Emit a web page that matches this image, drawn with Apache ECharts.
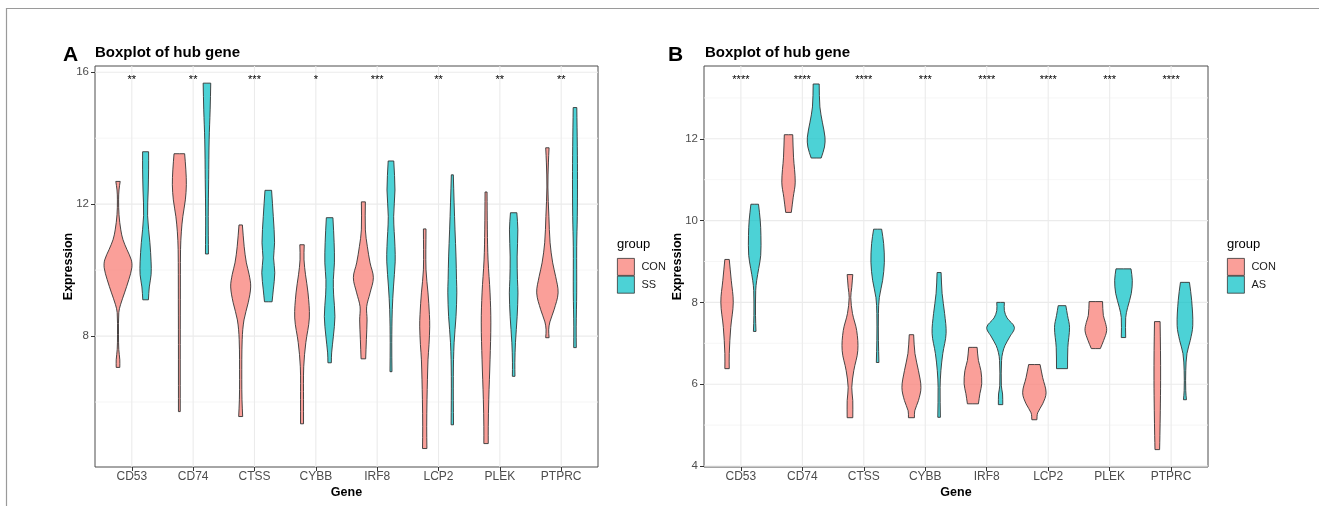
<!DOCTYPE html>
<html>
<head>
<meta charset="utf-8">
<title>Boxplot of hub gene</title>
<script src="https://cdn.jsdelivr.net/npm/echarts@6/dist/echarts.min.js"></script>
<style>
  html, body { margin: 0; padding: 0; background: #fff; }
  #chart { width: 1319px; height: 506px; }
</style>
</head>
<body>
<div id="chart"></div>
<script>
// Genes on the x axis (shared by both panels)
const genes = ['CD53', 'CD74', 'CTSS', 'CYBB', 'IRF8', 'LCP2', 'PLEK', 'PTPRC'];

// Significance marks above each gene
const sigA = ['**', '**', '***', '*', '***', '**', '**', '**'];
const sigB = ['****', '****', '****', '***', '****', '****', '***', '****'];

// Axis ticks
const ticksA = [8, 12, 16];
const minorA = [6, 10, 14];
const ticksB = [4, 6, 8, 10, 12];
const minorB = [5, 7, 9, 11, 13];

// Violin profiles: [expression, density] from top of the violin to its bottom
const violinA_CON = [
  [[12.69, 2.2], [12.43, 1.0], [12.13, 0.6], [11.68, 1.0], [11.22, 2.8], [10.92, 5.0], [10.62, 9.0], [10.31, 13.3], [10.07, 13.8], [9.71, 10.8], [9.31, 6.5], [8.95, 2.5], [8.71, 0.8], [8.04, 0.5], [7.59, 0.8], [7.28, 1.8], [7.05, 1.8]],
  [[13.53, 5.3], [13.04, 6.5], [12.59, 7.0], [12.13, 6.0], [11.63, 3.5], [11.16, 2.0], [10.62, 1.2], [9.10, 1.0], [7.28, 0.9], [5.71, 0.9]],
  [[11.37, 1.7], [10.71, 3.5], [10.22, 5.7], [9.86, 8.5], [9.49, 10.0], [9.01, 7.5], [8.49, 3.3], [7.89, 1.5], [6.68, 1.1], [6.07, 1.3], [5.56, 2.0]],
  [[10.77, 2.2], [10.31, 2.0], [9.86, 3.5], [9.31, 6.0], [8.55, 7.3], [7.80, 3.8], [7.07, 1.7], [6.07, 1.5], [5.34, 1.5]],
  [[12.07, 2.0], [11.22, 2.0], [10.71, 4.0], [10.22, 6.7], [9.77, 10.0], [9.31, 6.7], [8.89, 3.3], [8.49, 3.7], [7.89, 3.0], [7.31, 2.3]],
  [[11.25, 1.3], [10.01, 1.3], [9.31, 3.3], [8.65, 4.7], [8.28, 5.0], [7.74, 4.3], [7.28, 3.3], [6.07, 2.3], [5.25, 2.0], [4.59, 2.2]],
  [[12.37, 1.0], [11.22, 1.3], [10.31, 2.0], [9.31, 4.0], [8.40, 4.8], [7.28, 4.0], [6.07, 2.7], [5.25, 2.2], [4.74, 2.2]],
  [[13.71, 1.7], [13.25, 1.0], [12.52, 0.5], [11.63, 1.5], [10.83, 2.7], [10.22, 5.3], [9.80, 8.3], [9.31, 10.7], [8.80, 6.7], [8.43, 2.5], [8.19, 1.3], [7.95, 1.7]]
];
const violinA_SS = [
  [[13.59, 3.0], [13.04, 3.0], [12.43, 2.6], [11.65, 2.0], [10.83, 4.3], [10.25, 5.5], [9.86, 5.5], [9.49, 3.7], [9.10, 2.8]],
  [[15.67, 3.8], [14.86, 3.2], [13.95, 2.2], [12.74, 1.7], [11.63, 1.3], [10.49, 1.5]],
  [[12.42, 3.3], [11.63, 5.0], [10.83, 6.3], [10.37, 5.3], [9.92, 6.5], [9.40, 5.0], [9.04, 3.8]],
  [[11.59, 3.3], [10.83, 4.5], [10.22, 4.8], [9.71, 3.7], [9.25, 4.0], [8.59, 5.3], [7.98, 3.7], [7.49, 2.0], [7.19, 1.7]],
  [[13.31, 2.8], [12.43, 4.0], [11.63, 2.7], [10.71, 4.0], [10.25, 4.2], [9.49, 2.5], [8.80, 1.3], [7.80, 0.8], [6.92, 1.0]],
  [[12.89, 1.0], [12.04, 1.8], [11.22, 2.7], [10.40, 3.7], [9.71, 4.2], [9.31, 4.5], [8.59, 3.7], [7.80, 1.8], [6.77, 1.0], [5.31, 1.2]],
  [[11.74, 3.2], [11.22, 4.2], [10.40, 3.5], [9.71, 3.8], [9.31, 4.3], [8.59, 3.5], [7.80, 1.8], [7.19, 1.2], [6.78, 1.3]],
  [[14.93, 1.8], [13.74, 2.3], [12.74, 2.5], [11.63, 2.3], [10.71, 1.7], [9.31, 1.7], [8.28, 1.2], [7.65, 1.3]]
];
const violinB_CON = [
  [[9.05, 2.2], [8.54, 4.2], [8.00, 6.2], [7.39, 3.7], [6.75, 2.2], [6.38, 2.2]],
  [[12.10, 4.2], [11.55, 5.0], [10.94, 6.7], [10.57, 4.7], [10.20, 2.8]],
  [[8.68, 2.8], [8.37, 1.8], [8.12, 0.8], [7.73, 2.5], [7.31, 6.7], [6.82, 7.8], [6.33, 3.8], [5.92, 1.8], [5.60, 2.8], [5.18, 2.8]],
  [[7.21, 2.2], [6.75, 3.5], [6.33, 7.0], [5.92, 9.5], [5.60, 7.0], [5.35, 3.3], [5.18, 3.0]],
  [[6.90, 4.2], [6.58, 5.5], [6.33, 8.0], [6.01, 8.8], [5.77, 7.0], [5.52, 5.5]],
  [[6.48, 5.7], [6.16, 8.3], [5.79, 11.7], [5.52, 8.3], [5.30, 3.3], [5.13, 2.5]],
  [[8.02, 6.7], [7.68, 7.5], [7.51, 9.5], [7.31, 10.8], [7.07, 7.8], [6.87, 4.5]],
  [[7.53, 2.8], [6.82, 3.2], [6.09, 3.3], [5.35, 3.0], [4.74, 2.6], [4.40, 2.3]]
];
const violinB_AS = [
  [[10.40, 3.8], [10.01, 5.5], [9.64, 6.2], [9.15, 6.0], [8.83, 4.0], [8.54, 2.0], [8.29, 1.0], [7.68, 0.8], [7.29, 1.3]],
  [[13.34, 3.0], [12.78, 3.7], [12.39, 6.3], [12.04, 8.8], [11.80, 8.3], [11.53, 5.0]],
  [[9.79, 4.0], [9.44, 6.0], [8.98, 6.7], [8.54, 5.0], [8.12, 1.7], [7.73, 0.8], [7.07, 0.8], [6.53, 1.3]],
  [[8.73, 2.0], [8.22, 3.0], [7.73, 5.5], [7.24, 7.0], [6.75, 3.7], [6.33, 1.8], [5.92, 1.0], [5.19, 1.3]],
  [[8.00, 3.8], [7.80, 3.8], [7.62, 6.5], [7.39, 13.8], [7.15, 9.0], [6.95, 4.5], [6.78, 2.2], [6.58, 1.0], [5.96, 0.8], [5.76, 2.0], [5.50, 2.2]],
  [[7.92, 3.8], [7.68, 5.5], [7.39, 7.5], [6.90, 5.8], [6.38, 5.5]],
  [[8.82, 7.5], [8.54, 8.8], [8.22, 7.8], [7.88, 4.2], [7.63, 2.2], [7.14, 2.2]],
  [[8.49, 4.5], [8.05, 6.7], [7.43, 7.8], [7.07, 5.3], [6.75, 2.0], [6.33, 0.8], [5.84, 0.8], [5.62, 1.5]]
];

// ---- layout / style ----
const FONT = 'Liberation Sans, Arial, Helvetica, sans-serif';
const DODGE = 0.225;              // half of the dodge width
const DENSITY_FULL = 13.8;        // density that fills the whole dodge slot
const K = DODGE / DENSITY_FULL;   // x units per density unit
const X_MIN = 0.4, X_MAX = 8.6;
const COL_CON = 'rgba(248,118,109,0.7)';
const COL_CASE = 'rgba(0,191,196,0.7)';
const positions = genes.map((g, i) => i + 1);

function violinRenderer(profiles, offset, fill) {
  return function (params, api) {
    const prof = profiles[params.dataIndex];
    const cx = params.dataIndex + 1 + offset;
    const right = prof.map(p => api.coord([cx + p[1] * K, p[0]]));
    const left = prof.map(p => api.coord([cx - p[1] * K, p[0]])).reverse();
    // corner points doubled so flat ends stay crisp when smoothing
    const pts = [right[0]].concat(right, [right[right.length - 1], left[0]], left, [left[left.length - 1]]);
    return {
      type: 'polygon',
      shape: { points: pts, smooth: 0.35 },
      style: { fill: fill, stroke: '#333333', lineWidth: 0.9 }
    };
  };
}

function gridLines(major, minor) {
  const items = [];
  minor.forEach(v => items.push({ dir: 'h', v: v, major: false }));
  major.forEach(v => items.push({ dir: 'h', v: v, major: true }));
  positions.forEach(v => items.push({ dir: 'v', v: v, major: true }));
  return items;
}

function gridRenderer(items, yMin, yMax) {
  return function (params, api) {
    const it = items[params.dataIndex];
    let a, b;
    if (it.dir === 'h') { a = api.coord([X_MIN, it.v]); b = api.coord([X_MAX, it.v]); }
    else { a = api.coord([it.v, yMin]); b = api.coord([it.v, yMax]); }
    return {
      type: 'line',
      shape: { x1: a[0], y1: a[1], x2: b[0], y2: b[1] },
      style: { stroke: it.major ? '#ebebeb' : '#f4f4f4', lineWidth: it.major ? 1.1 : 0.8 }
    };
  };
}

function starRenderer(marks, yPos) {
  return function (params, api) {
    const p = api.coord([params.dataIndex + 1, yPos]);
    return {
      type: 'text',
      x: p[0], y: p[1],
      style: { text: marks[params.dataIndex], fill: '#000', font: '11px ' + FONT, align: 'center', verticalAlign: 'middle' }
    };
  };
}

const Y_A = [4.03, 16.19];
const Y_B = [3.975, 13.78];
const gridItemsA = gridLines(ticksA, minorA);
const gridItemsB = gridLines(ticksB, minorB);

function xAxisFor(idx) {
  return {
    gridIndex: idx, type: 'value', min: X_MIN, max: X_MAX,
    axisLine: { show: false }, splitLine: { show: false },
    axisTick: { show: true, customValues: positions, length: 4, lineStyle: { color: '#333', width: 1 } },
    axisLabel: { customValues: positions, formatter: v => genes[Math.round(v) - 1], color: '#4d4d4d', fontSize: 12, fontFamily: FONT, margin: 4 },
    name: 'Gene', nameLocation: 'middle', nameGap: 19, nameMoveOverlap: false,
    nameTextStyle: { fontWeight: 'bold', fontSize: 12.5, color: '#000', fontFamily: FONT }
  };
}
function yAxisFor(idx, range, ticks) {
  return {
    gridIndex: idx, type: 'value', min: range[0], max: range[1],
    axisLine: { show: false }, splitLine: { show: false },
    axisTick: { show: true, customValues: ticks, length: 4, lineStyle: { color: '#333', width: 1 } },
    axisLabel: { customValues: ticks, color: '#4d4d4d', fontSize: 11.5, fontFamily: FONT, margin: 6 },
    name: 'Expression', nameLocation: 'middle', nameGap: 20, nameRotate: 90, nameMoveOverlap: false,
    nameTextStyle: { fontWeight: 'bold', fontSize: 12.5, color: '#000', fontFamily: FONT }
  };
}

const idxData = genes.map((g, i) => [i + 1, 0]);
const chart = echarts.init(document.getElementById('chart'), null, { renderer: 'canvas' });

chart.setOption({
  animation: false,
  backgroundColor: '#ffffff',
  textStyle: { fontFamily: FONT },
  grid: [
    { left: 95, top: 66, width: 503, height: 401, show: true, borderColor: '#4d4d4d', borderWidth: 1, backgroundColor: 'transparent' },
    { left: 704, top: 66, width: 504, height: 401, show: true, borderColor: '#4d4d4d', borderWidth: 1, backgroundColor: 'transparent' }
  ],
  xAxis: [xAxisFor(0), xAxisFor(1)],
  yAxis: [yAxisFor(0, Y_A, ticksA), yAxisFor(1, Y_B, ticksB)],
  legend: [
    { left: 617, top: 258, orient: 'vertical', padding: 0, itemGap: 0, itemWidth: 17, itemHeight: 17, icon: 'rect',
      data: ['CON', 'SS'], selectedMode: false,
      itemStyle: { borderColor: '#333', borderWidth: 0.8 },
      textStyle: { fontSize: 11, color: '#1a1a1a', fontFamily: FONT, padding: [0, 0, 0, 2] } },
    { left: 1227, top: 258, orient: 'vertical', padding: 0, itemGap: 0, itemWidth: 17, itemHeight: 17, icon: 'rect',
      data: ['CON', 'AS'], selectedMode: false,
      itemStyle: { borderColor: '#333', borderWidth: 0.8 },
      textStyle: { fontSize: 11, color: '#1a1a1a', fontFamily: FONT, padding: [0, 0, 0, 2] } }
  ],
  graphic: [
    { type: 'polyline', silent: true, shape: { points: [[6.5, 506], [6.5, 8.5], [1319, 8.5]] }, style: { stroke: '#9a9a9a', lineWidth: 1.2, fill: null } },
    { type: 'text', left: 63, top: 45, style: { text: 'A', font: 'bold 21px ' + FONT, fill: '#000' } },
    { type: 'text', left: 95, top: 45, style: { text: 'Boxplot of hub gene', font: 'bold 15px ' + FONT, fill: '#000' } },
    { type: 'text', left: 668, top: 45, style: { text: 'B', font: 'bold 21px ' + FONT, fill: '#000' } },
    { type: 'text', left: 705, top: 45, style: { text: 'Boxplot of hub gene', font: 'bold 15px ' + FONT, fill: '#000' } },
    { type: 'text', left: 617, top: 238, style: { text: 'group', font: '13px ' + FONT, fill: '#000' } },
    { type: 'text', left: 1227, top: 238, style: { text: 'group', font: '13px ' + FONT, fill: '#000' } }
  ],
  series: [
    { type: 'custom', xAxisIndex: 0, yAxisIndex: 0, z: 1, silent: true, data: gridItemsA.map(() => [1, 8]), renderItem: gridRenderer(gridItemsA, Y_A[0], Y_A[1]) },
    { type: 'custom', xAxisIndex: 1, yAxisIndex: 1, z: 1, silent: true, data: gridItemsB.map(() => [1, 8]), renderItem: gridRenderer(gridItemsB, Y_B[0], Y_B[1]) },
    { name: 'CON', type: 'custom', xAxisIndex: 0, yAxisIndex: 0, z: 3, data: idxData,
      itemStyle: { color: COL_CON, borderColor: '#333', borderWidth: 0.8 },
      renderItem: violinRenderer(violinA_CON, -DODGE, COL_CON) },
    { name: 'SS', type: 'custom', xAxisIndex: 0, yAxisIndex: 0, z: 3, data: idxData,
      itemStyle: { color: COL_CASE, borderColor: '#333', borderWidth: 0.8 },
      renderItem: violinRenderer(violinA_SS, DODGE, COL_CASE) },
    { name: 'CON', type: 'custom', xAxisIndex: 1, yAxisIndex: 1, z: 3, data: idxData,
      itemStyle: { color: COL_CON, borderColor: '#333', borderWidth: 0.8 },
      renderItem: violinRenderer(violinB_CON, -DODGE, COL_CON) },
    { name: 'AS', type: 'custom', xAxisIndex: 1, yAxisIndex: 1, z: 3, data: idxData,
      itemStyle: { color: COL_CASE, borderColor: '#333', borderWidth: 0.8 },
      renderItem: violinRenderer(violinB_AS, DODGE, COL_CASE) },
    { type: 'custom', xAxisIndex: 0, yAxisIndex: 0, z: 4, silent: true, data: idxData, renderItem: starRenderer(sigA, 15.76) },
    { type: 'custom', xAxisIndex: 1, yAxisIndex: 1, z: 4, silent: true, data: idxData, renderItem: starRenderer(sigB, 13.43) }
  ]
});
</script>
</body>
</html>
